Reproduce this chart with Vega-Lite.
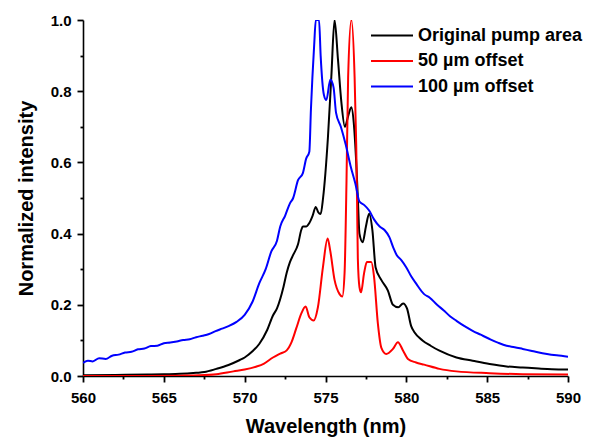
{
  "$schema": "https://vega.github.io/schema/vega-lite/v6.json",
  "autosize": "none",
  "width": 485,
  "height": 356,
  "padding": {"left": 83, "top": 20, "right": 23, "bottom": 62},
  "background": "white",
  "config": {
    "view": {"stroke": null},
    "font": "Liberation Sans",
    "axis": {"grid": false, "domainColor": "black", "domainWidth": 1.6, "tickColor": "black", "tickWidth": 1.8, "labelColor": "black", "titleColor": "black", "labelFont": "Liberation Sans", "titleFont": "Liberation Sans", "labelFontWeight": "bold", "titleFontWeight": "bold", "labelFontSize": 15, "titleFontSize": 20}
  },
  "data": {"values": [
    {"s":"Original pump area","wl":560,"v":0.002},{"s":"Original pump area","wl":562,"v":0.003},{"s":"Original pump area","wl":564,"v":0.004},{"s":"Original pump area","wl":565,"v":0.005},{"s":"Original pump area","wl":566,"v":0.006},{"s":"Original pump area","wl":567,"v":0.009},{"s":"Original pump area","wl":567.5,"v":0.011},{"s":"Original pump area","wl":568.25,"v":0.02},{"s":"Original pump area","wl":569,"v":0.031},{"s":"Original pump area","wl":569.7,"v":0.045},{"s":"Original pump area","wl":570,"v":0.052},{"s":"Original pump area","wl":570.5,"v":0.07},{"s":"Original pump area","wl":570.9,"v":0.09},{"s":"Original pump area","wl":571.4,"v":0.13},{"s":"Original pump area","wl":571.75,"v":0.17},{"s":"Original pump area","wl":572,"v":0.19},{"s":"Original pump area","wl":572.4,"v":0.25},{"s":"Original pump area","wl":572.6,"v":0.29},{"s":"Original pump area","wl":572.8,"v":0.32},{"s":"Original pump area","wl":573,"v":0.34},{"s":"Original pump area","wl":573.3,"v":0.37},{"s":"Original pump area","wl":573.5,"v":0.41},{"s":"Original pump area","wl":573.6,"v":0.42},{"s":"Original pump area","wl":573.8,"v":0.42},{"s":"Original pump area","wl":574,"v":0.43},{"s":"Original pump area","wl":574.2,"v":0.45},{"s":"Original pump area","wl":574.4,"v":0.475},{"s":"Original pump area","wl":574.55,"v":0.46},{"s":"Original pump area","wl":574.7,"v":0.455},{"s":"Original pump area","wl":574.85,"v":0.5},{"s":"Original pump area","wl":575.15,"v":0.67},{"s":"Original pump area","wl":575.36,"v":0.84},{"s":"Original pump area","wl":575.56,"v":1.0},{"s":"Original pump area","wl":575.77,"v":0.89},{"s":"Original pump area","wl":575.98,"v":0.77},{"s":"Original pump area","wl":576.2,"v":0.7},{"s":"Original pump area","wl":576.4,"v":0.73},{"s":"Original pump area","wl":576.6,"v":0.755},{"s":"Original pump area","wl":576.75,"v":0.71},{"s":"Original pump area","wl":576.9,"v":0.6},{"s":"Original pump area","wl":577,"v":0.5},{"s":"Original pump area","wl":577.1,"v":0.4},{"s":"Original pump area","wl":577.3,"v":0.376},{"s":"Original pump area","wl":577.5,"v":0.42},{"s":"Original pump area","wl":577.7,"v":0.456},{"s":"Original pump area","wl":577.9,"v":0.41},{"s":"Original pump area","wl":578.1,"v":0.305},{"s":"Original pump area","wl":578.45,"v":0.27},{"s":"Original pump area","wl":578.86,"v":0.24},{"s":"Original pump area","wl":579.17,"v":0.2},{"s":"Original pump area","wl":579.5,"v":0.193},{"s":"Original pump area","wl":579.8,"v":0.204},{"s":"Original pump area","wl":580.04,"v":0.19},{"s":"Original pump area","wl":580.3,"v":0.14},{"s":"Original pump area","wl":580.5,"v":0.123},{"s":"Original pump area","wl":581,"v":0.1},{"s":"Original pump area","wl":581.5,"v":0.085},{"s":"Original pump area","wl":582.05,"v":0.071},{"s":"Original pump area","wl":583.1,"v":0.052},{"s":"Original pump area","wl":584.1,"v":0.043},{"s":"Original pump area","wl":585.15,"v":0.034},{"s":"Original pump area","wl":586.2,"v":0.027},{"s":"Original pump area","wl":587.2,"v":0.024},{"s":"Original pump area","wl":588.2,"v":0.021},{"s":"Original pump area","wl":589,"v":0.019},{"s":"Original pump area","wl":590,"v":0.018},

    {"s":"50 µm offset","wl":560,"v":0.0},{"s":"50 µm offset","wl":563,"v":0.0},{"s":"50 µm offset","wl":566,"v":0.001},{"s":"50 µm offset","wl":567.2,"v":0.002},{"s":"50 µm offset","wl":568.25,"v":0.005},{"s":"50 µm offset","wl":569.3,"v":0.013},{"s":"50 µm offset","wl":570,"v":0.018},{"s":"50 µm offset","wl":570.7,"v":0.026},{"s":"50 µm offset","wl":571.2,"v":0.035},{"s":"50 µm offset","wl":571.75,"v":0.052},{"s":"50 µm offset","wl":572.2,"v":0.063},{"s":"50 µm offset","wl":572.6,"v":0.072},{"s":"50 µm offset","wl":572.9,"v":0.095},{"s":"50 µm offset","wl":573.2,"v":0.135},{"s":"50 µm offset","wl":573.5,"v":0.175},{"s":"50 µm offset","wl":573.77,"v":0.195},{"s":"50 µm offset","wl":574,"v":0.165},{"s":"50 µm offset","wl":574.27,"v":0.156},{"s":"50 µm offset","wl":574.53,"v":0.193},{"s":"50 µm offset","wl":574.84,"v":0.305},{"s":"50 µm offset","wl":575.13,"v":0.386},{"s":"50 µm offset","wl":575.3,"v":0.35},{"s":"50 µm offset","wl":575.56,"v":0.27},{"s":"50 µm offset","wl":575.87,"v":0.23},{"s":"50 µm offset","wl":576.04,"v":0.223},{"s":"50 µm offset","wl":576.18,"v":0.29},{"s":"50 µm offset","wl":576.3,"v":0.55},{"s":"50 µm offset","wl":576.4,"v":0.84},{"s":"50 µm offset","wl":576.6,"v":1.0},{"s":"50 µm offset","wl":576.8,"v":0.84},{"s":"50 µm offset","wl":576.9,"v":0.65},{"s":"50 µm offset","wl":576.95,"v":0.5},{"s":"50 µm offset","wl":577,"v":0.33},{"s":"50 µm offset","wl":577.1,"v":0.25},{"s":"50 µm offset","wl":577.2,"v":0.235},{"s":"50 µm offset","wl":577.38,"v":0.287},{"s":"50 µm offset","wl":577.56,"v":0.32},{"s":"50 µm offset","wl":577.83,"v":0.32},{"s":"50 µm offset","wl":578,"v":0.28},{"s":"50 µm offset","wl":578.24,"v":0.147},{"s":"50 µm offset","wl":578.45,"v":0.08},{"s":"50 µm offset","wl":578.76,"v":0.062},{"s":"50 µm offset","wl":579.17,"v":0.076},{"s":"50 µm offset","wl":579.48,"v":0.095},{"s":"50 µm offset","wl":579.8,"v":0.071},{"s":"50 µm offset","wl":580.1,"v":0.048},{"s":"50 µm offset","wl":580.6,"v":0.038},{"s":"50 µm offset","wl":581.1,"v":0.032},{"s":"50 µm offset","wl":582.05,"v":0.02},{"s":"50 µm offset","wl":583.1,"v":0.013},{"s":"50 µm offset","wl":585.15,"v":0.008},{"s":"50 µm offset","wl":587.2,"v":0.005},{"s":"50 µm offset","wl":590,"v":0.004},

    {"s":"100 µm offset","wl":560,"v":0.037},{"s":"100 µm offset","wl":560.3,"v":0.043},{"s":"100 µm offset","wl":560.6,"v":0.041},{"s":"100 µm offset","wl":561,"v":0.05},{"s":"100 µm offset","wl":561.4,"v":0.048},{"s":"100 µm offset","wl":561.8,"v":0.057},{"s":"100 µm offset","wl":562.2,"v":0.06},{"s":"100 µm offset","wl":562.6,"v":0.066},{"s":"100 µm offset","wl":563,"v":0.068},{"s":"100 µm offset","wl":563.4,"v":0.075},{"s":"100 µm offset","wl":563.8,"v":0.077},{"s":"100 µm offset","wl":564.2,"v":0.084},{"s":"100 µm offset","wl":564.6,"v":0.085},{"s":"100 µm offset","wl":565,"v":0.092},{"s":"100 µm offset","wl":565.4,"v":0.094},{"s":"100 µm offset","wl":565.8,"v":0.097},{"s":"100 µm offset","wl":566.2,"v":0.101},{"s":"100 µm offset","wl":566.6,"v":0.103},{"s":"100 µm offset","wl":567,"v":0.109},{"s":"100 µm offset","wl":567.4,"v":0.113},{"s":"100 µm offset","wl":567.8,"v":0.118},{"s":"100 µm offset","wl":568.2,"v":0.126},{"s":"100 µm offset","wl":568.6,"v":0.133},{"s":"100 µm offset","wl":569,"v":0.14},{"s":"100 µm offset","wl":569.5,"v":0.152},{"s":"100 µm offset","wl":570,"v":0.172},{"s":"100 µm offset","wl":570.5,"v":0.21},{"s":"100 µm offset","wl":570.9,"v":0.26},{"s":"100 µm offset","wl":571.3,"v":0.3},{"s":"100 µm offset","wl":571.65,"v":0.35},{"s":"100 µm offset","wl":572,"v":0.38},{"s":"100 µm offset","wl":572.2,"v":0.42},{"s":"100 µm offset","wl":572.5,"v":0.45},{"s":"100 µm offset","wl":572.8,"v":0.485},{"s":"100 µm offset","wl":573,"v":0.5},{"s":"100 µm offset","wl":573.3,"v":0.55},{"s":"100 µm offset","wl":573.6,"v":0.57},{"s":"100 µm offset","wl":573.8,"v":0.61},{"s":"100 µm offset","wl":574,"v":0.63},{"s":"100 µm offset","wl":574.1,"v":0.75},{"s":"100 µm offset","wl":574.3,"v":0.93},{"s":"100 µm offset","wl":574.4,"v":1.0},{"s":"100 µm offset","wl":574.6,"v":1.0},{"s":"100 µm offset","wl":574.7,"v":0.9},{"s":"100 µm offset","wl":574.9,"v":0.79},{"s":"100 µm offset","wl":575.05,"v":0.775},{"s":"100 µm offset","wl":575.3,"v":0.833},{"s":"100 µm offset","wl":575.5,"v":0.81},{"s":"100 µm offset","wl":575.65,"v":0.74},{"s":"100 µm offset","wl":575.95,"v":0.7},{"s":"100 µm offset","wl":576.25,"v":0.65},{"s":"100 µm offset","wl":576.55,"v":0.59},{"s":"100 µm offset","wl":576.85,"v":0.54},{"s":"100 µm offset","wl":577.1,"v":0.49},{"s":"100 µm offset","wl":577.4,"v":0.48},{"s":"100 µm offset","wl":577.7,"v":0.465},{"s":"100 µm offset","wl":578,"v":0.44},{"s":"100 µm offset","wl":578.35,"v":0.42},{"s":"100 µm offset","wl":578.65,"v":0.41},{"s":"100 µm offset","wl":578.95,"v":0.39},{"s":"100 µm offset","wl":579.2,"v":0.36},{"s":"100 µm offset","wl":579.4,"v":0.34},{"s":"100 µm offset","wl":579.7,"v":0.325},{"s":"100 µm offset","wl":580,"v":0.305},{"s":"100 µm offset","wl":580.3,"v":0.28},{"s":"100 µm offset","wl":580.6,"v":0.26},{"s":"100 µm offset","wl":581.1,"v":0.23},{"s":"100 µm offset","wl":581.45,"v":0.22},{"s":"100 µm offset","wl":581.9,"v":0.2},{"s":"100 µm offset","wl":582.3,"v":0.185},{"s":"100 µm offset","wl":582.7,"v":0.168},{"s":"100 µm offset","wl":583.1,"v":0.155},{"s":"100 µm offset","wl":583.6,"v":0.14},{"s":"100 µm offset","wl":584.1,"v":0.127},{"s":"100 µm offset","wl":584.6,"v":0.116},{"s":"100 µm offset","wl":585.15,"v":0.104},{"s":"100 µm offset","wl":585.7,"v":0.093},{"s":"100 µm offset","wl":586.2,"v":0.085},{"s":"100 µm offset","wl":586.7,"v":0.081},{"s":"100 µm offset","wl":587.2,"v":0.076},{"s":"100 µm offset","wl":587.7,"v":0.071},{"s":"100 µm offset","wl":588.2,"v":0.066},{"s":"100 µm offset","wl":588.7,"v":0.062},{"s":"100 µm offset","wl":589.3,"v":0.058},{"s":"100 µm offset","wl":590,"v":0.054}
  ]},
  "resolve": {"axis": {"x": "independent", "y": "independent"}},
  "layer": [
    {
      "mark": {"type": "line", "strokeWidth": 2, "interpolate": "monotone", "clip": true},
      "encoding": {
        "x": {"field": "wl", "type": "quantitative", "title": "Wavelength (nm)",
          "scale": {"domain": [560, 590], "nice": false, "zero": false},
          "axis": {"orient": "bottom", "values": [560, 565, 570, 575, 580, 585, 590], "format": "d",
            "ticks": true, "tickSize": 6, "labelPadding": 8, "titlePadding": 11, "labelFlush": false}},
        "y": {"field": "v", "type": "quantitative", "title": "Normalized intensity",
          "scale": {"domain": [0, 1], "nice": false},
          "axis": {"orient": "left", "values": [0, 0.2, 0.4, 0.6, 0.8, 1.0], "format": ".1f",
            "ticks": true, "tickSize": 6, "labelPadding": 6, "titlePadding": 14, "labelFlush": false}},
        "color": {"field": "s", "type": "nominal", "title": null,
          "scale": {"domain": ["Original pump area", "50 µm offset", "100 µm offset"], "range": ["#000000", "#ff0000", "#0000ff"]},
          "legend": {"orient": "none", "legendX": 297.5, "legendY": 4, "symbolType": "M-2,0H2", "symbolSize": 441, "symbolStrokeWidth": 2, "labelFontSize": 18, "labelFontWeight": "bold", "labelColor": "black", "labelFont": "Liberation Sans", "rowPadding": 4.5, "labelOffset": 14.5, "labelLimit": 300}}
      }
    },
    {
      "mark": {"type": "line", "opacity": 0, "clip": true},
      "encoding": {
        "x": {"field": "wl", "type": "quantitative",
          "axis": {"orient": "bottom", "values": [562.5, 567.5, 572.5, 577.5, 582.5, 587.5], "labels": false, "domain": false, "ticks": true, "tickSize": 3, "title": null}},
        "y": {"field": "v", "type": "quantitative",
          "axis": {"orient": "left", "values": [0.1, 0.3, 0.5, 0.7, 0.9], "labels": false, "domain": false, "ticks": true, "tickSize": 3, "title": null}},
        "detail": {"field": "s"}
      }
    }
  ]
}
